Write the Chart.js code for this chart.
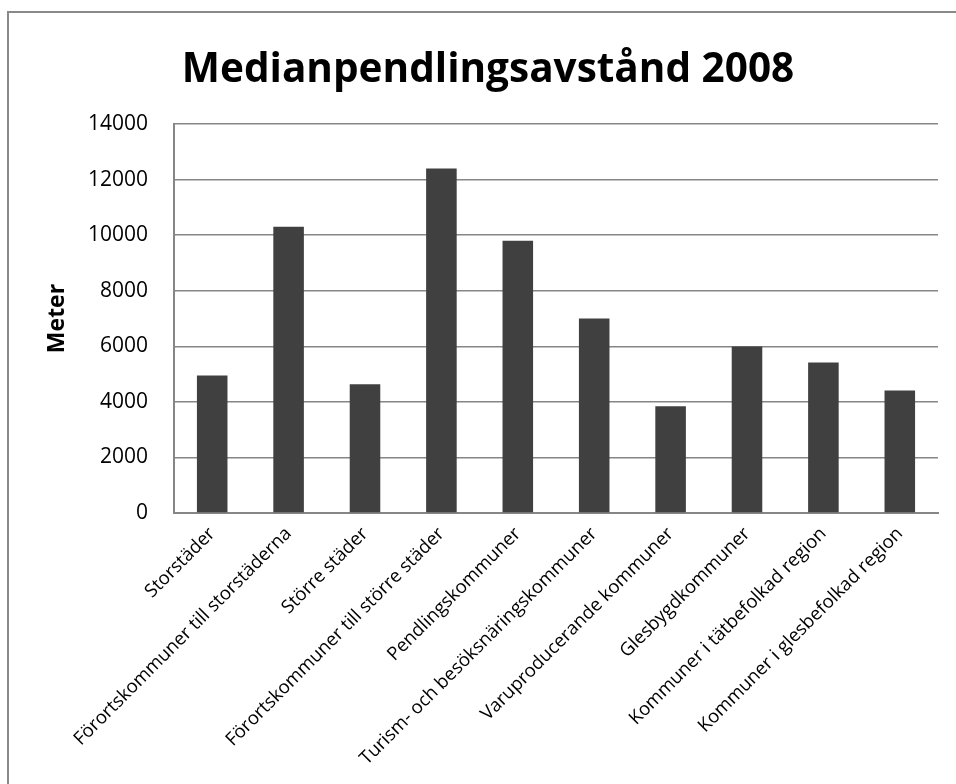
<!DOCTYPE html>
<html>
<head>
<meta charset="utf-8">
<script src="https://cdn.jsdelivr.net/npm/chart.js@4/dist/chart.umd.min.js"></script>
<style>
    body { margin: 0; background: #fff; overflow: hidden; }
    #wrap { position: relative; width: 956px; height: 784px; }
    #frame {
        position: absolute; left: 7px; top: 11px; width: 1000px; height: 1000px;
        border: 2px solid #898989; pointer-events: none;
    }
</style>
</head>
<body>
<div id="wrap">
    <canvas id="pendlingChart" width="956" height="784"></canvas>
    <div id="frame"></div>
</div>
<script>
const categories = [
    "Storstäder",
    "Förortskommuner till storstäderna",
    "Större städer",
    "Förortskommuner till större städer",
    "Pendlingskommuner",
    "Turism- och besöksnäringskommuner",
    "Varuproducerande kommuner",
    "Glesbygdkommuner",
    "Kommuner i tätbefolkad region",
    "Kommuner i glesbefolkad region"
];
const medianDistance = [4950, 10300, 4630, 12400, 9800, 7000, 3840, 5990, 5420, 4410];
const yTicks = [0, 2000, 4000, 6000, 8000, 10000, 12000, 14000];

const fontFamily = "'Open Sans', sans-serif";
const gridColor = '#868686';

const ctx = document.getElementById('pendlingChart').getContext('2d');

new Chart(ctx, {
    type: 'bar',
    data: {
        labels: categories,
        datasets: [{
            label: 'Meter',
            data: medianDistance,
            backgroundColor: '#404040',
            borderWidth: 0,
            barPercentage: 0.4,
            categoryPercentage: 1.0
        }]
    },
    options: {
        responsive: false,
        animation: false,
        // left padding shifts the title centre to match the original
        layout: { padding: { left: 38, right: 18, top: 0, bottom: 0 } },
        plugins: {
            legend: { display: false },
            tooltip: { enabled: false },
            title: {
                display: true,
                text: 'Medianpendlingsavstånd 2008',
                color: '#000',
                font: { family: fontFamily, size: 40.5, weight: 'bold', lineHeight: 1.2 },
                padding: { top: 46, bottom: 29.4 }
            }
        },
        scales: {
            x: {
                grid: { display: false, drawTicks: false },
                border: { display: true, color: gridColor, width: 2 },
                ticks: {
                    autoSkip: false,
                    maxRotation: 45,
                    minRotation: 45,
                    padding: 10,
                    color: '#000',
                    font: { family: fontFamily, size: 18.5 }
                },
                afterFit: (scale) => { scale.height = 271; }
            },
            y: {
                min: 0,
                max: 14000,
                afterBuildTicks: (scale) => { scale.ticks = yTicks.map(v => ({ value: v })); },
                grid: { color: gridColor, lineWidth: 1.5, drawTicks: false },
                border: { display: true, color: gridColor, width: 2 },
                ticks: {
                    padding: 26,
                    color: '#000',
                    font: { family: fontFamily, size: 21 },
                    callback: (value) => String(value)
                },
                title: {
                    display: true,
                    text: 'Meter',
                    color: '#000',
                    font: { family: fontFamily, size: 23, weight: 'bold', lineHeight: 1.2 },
                    padding: { top: 6, bottom: 0 }
                },
                afterFit: (scale) => { scale.width = 136; }
            }
        }
    }
});
</script>
</body>
</html>
